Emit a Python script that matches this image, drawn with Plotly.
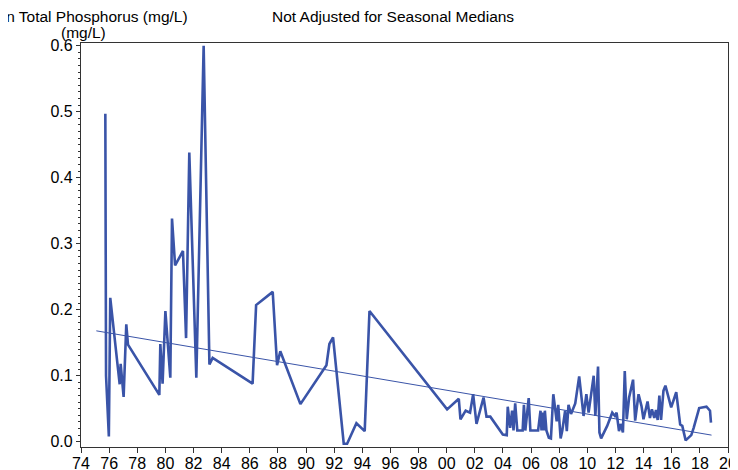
import plotly.graph_objects as go

# Mean total phosphorus (mg/L)
years = [
    1975.73, 1975.78, 1975.98, 1976.08, 1976.75, 1976.82, 1977.03, 1977.22, 1977.34,
    1979.57, 1979.64, 1979.80, 1980.00, 1980.35, 1980.47, 1980.69, 1981.25, 1981.47,
    1981.70, 1982.20, 1982.72, 1983.13, 1983.36, 1986.20, 1986.45, 1987.63, 1987.94,
    1988.17, 1989.60, 1991.45, 1991.66, 1991.92, 1992.68, 1992.92, 1993.58, 1994.17,
    1994.51, 2000.03, 2000.86, 2000.98, 2001.35, 2001.66, 2001.88, 2002.12, 2002.62,
    2002.83, 2003.10, 2003.99, 2004.27, 2004.34, 2004.51, 2004.65, 2004.75, 2004.87,
    2005.02, 2005.40, 2005.49, 2005.59, 2005.83, 2005.95, 2006.50, 2006.57, 2006.67,
    2006.74, 2006.81, 2006.91, 2006.98, 2007.09, 2007.26, 2007.41, 2007.58, 2007.82,
    2007.93, 2008.10, 2008.22, 2008.42, 2008.54, 2008.66, 2008.84, 2009.14, 2009.42,
    2009.73, 2009.93, 2010.09, 2010.45, 2010.57, 2010.76, 2010.86, 2010.98, 2011.41,
    2011.77, 2011.96, 2012.08, 2012.25, 2012.36, 2012.53, 2012.66, 2012.80, 2012.97,
    2013.25, 2013.40, 2013.64, 2013.85, 2013.99, 2014.28, 2014.45, 2014.59, 2014.76,
    2014.88, 2015.00, 2015.12, 2015.24, 2015.41, 2015.55, 2015.96, 2016.32, 2016.60,
    2016.75, 2016.99, 2017.39, 2017.56, 2017.95, 2018.47, 2018.72, 2018.79,
]
tp = [
    0.497, 0.100, 0.008, 0.218, 0.087, 0.118, 0.068, 0.178, 0.147,
    0.071, 0.148, 0.088, 0.198, 0.097, 0.338, 0.267, 0.289, 0.157,
    0.438, 0.097, 0.600, 0.117, 0.127, 0.088, 0.207, 0.227, 0.116,
    0.137, 0.057, 0.116, 0.148, 0.158, -0.003, -0.003, 0.028, 0.016,
    0.198, 0.049, 0.065, 0.034, 0.047, 0.044, 0.072, 0.027, 0.067,
    0.038, 0.038, 0.011, 0.010, 0.053, 0.021, 0.047, 0.017, 0.058,
    0.017, 0.017, 0.056, 0.017, 0.066, 0.017, 0.017, 0.031, 0.047,
    0.017, 0.044, 0.017, 0.047, 0.017, 0.006, 0.005, 0.072, 0.031,
    0.056, 0.005, 0.017, 0.047, 0.016, 0.056, 0.042, 0.058, 0.099,
    0.039, 0.072, 0.044, 0.100, 0.039, 0.114, 0.014, 0.005, 0.024,
    0.044, 0.039, 0.044, 0.016, 0.027, 0.014, 0.107, 0.034, 0.067,
    0.094, 0.032, 0.072, 0.054, 0.034, 0.061, 0.036, 0.049, 0.036,
    0.048, 0.033, 0.070, 0.033, 0.077, 0.085, 0.052, 0.075, 0.026,
    0.024, 0.002, 0.010, 0.021, 0.051, 0.053, 0.047, 0.029,
]

# fitted trend line end points
trend_years = [1975.09, 2018.83]
trend_tp = [0.168, 0.010]

tick_years = list(range(1974, 2021, 2))
tick_text = [f"{y % 100:02d}" for y in tick_years]

blue = '#3A54A8'
font = 'Arial, Liberation Sans, sans-serif'

fig = go.Figure()

fig.add_trace(go.Scatter(x=years, y=tp, mode='lines',
                         line=dict(color=blue, width=2.6), showlegend=False))
fig.add_trace(go.Scatter(x=trend_years, y=trend_tp, mode='lines',
                         line=dict(color=blue, width=1), showlegend=False))

# titles (partly cut off at the top/left edge, like the original)
title_font = dict(size=15.5, color='black', family=font)
fig.add_annotation(text='for Mean Total Phosphorus (mg/L)', xref='paper', yref='paper',
                   x=0.4815, y=1.111, xanchor='center', yanchor='middle', showarrow=False,
                   font=title_font)
fig.add_annotation(text='Not Adjusted for Seasonal Medians', xref='paper', yref='paper',
                   x=0.4815, y=1.0668, xanchor='center', yanchor='middle', showarrow=False,
                   font=title_font)
fig.add_annotation(text='Mean Total Phosphorus (mg/L)', xref='paper', yref='paper',
                   x=0.1685, y=1.0668, xanchor='right', yanchor='middle', showarrow=False,
                   font=title_font)
fig.add_annotation(text='(mg/L)', xref='paper', yref='paper',
                   x=0.0046, y=1.026, xanchor='center', yanchor='middle', showarrow=False,
                   font=title_font)

# page body adds an 8px margin, so the plot area is placed to land on the window
fig.update_layout(
    width=730, height=470,
    margin=dict(l=73, r=10, t=35, b=31, autoexpand=False),
    paper_bgcolor='white', plot_bgcolor='white',
    font=dict(family=font, size=16, color='black'),
    xaxis=dict(range=[1974, 2020], tickvals=tick_years, ticktext=tick_text,
               ticks='outside', ticklen=5, tickcolor='#333', ticklabelstandoff=-3,
               showline=True, linecolor='#333', linewidth=1.3, mirror=True,
               showgrid=False, zeroline=False),
    yaxis=dict(range=[-0.008, 0.6041], dtick=0.1, tick0=0, tickformat='.1f',
               ticks='outside', ticklen=4, tickcolor='#333',
               minor=dict(dtick=0.01, ticks='outside', ticklen=2, tickcolor='#333'),
               showline=True, linecolor='#333', linewidth=1.3, mirror=True,
               showgrid=False, zeroline=False),
)

fig.write_html("out.html")
